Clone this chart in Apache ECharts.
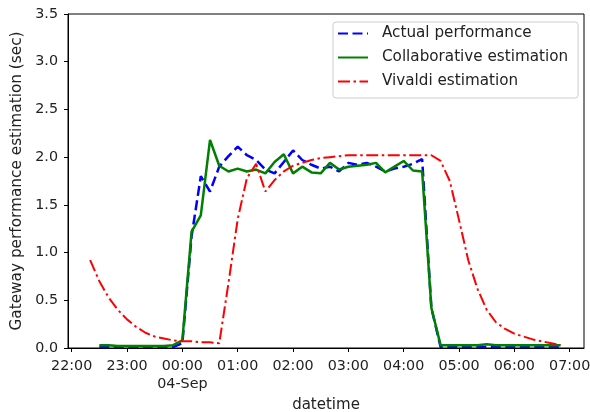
<!DOCTYPE html>
<html>
<head>
<meta charset="utf-8">
<script src="https://cdn.jsdelivr.net/npm/echarts@6/dist/echarts.min.js"></script>
<style>
  html, body { margin: 0; padding: 0; background: #fff; }
  #chart { width: 590px; height: 412px; }
</style>
</head>
<body>
<div id="chart"></div>
<script>
// sample times (night of 03 -> 04 Sep), 10 minute steps
const times = [
  '22:20', '22:30', '22:40', '22:50', '23:00', '23:10', '23:20', '23:30', '23:40', '23:50',
  '00:00', '00:10', '00:20', '00:30', '00:40', '00:50',
  '01:00', '01:10', '01:20', '01:30', '01:40', '01:50',
  '02:00', '02:10', '02:20', '02:30', '02:40', '02:50',
  '03:00', '03:10', '03:20', '03:30', '03:40', '03:50',
  '04:00', '04:10', '04:20', '04:30', '04:40', '04:50',
  '05:00', '05:10', '05:20', '05:30', '05:40', '05:50',
  '06:00', '06:10', '06:20', '06:30', '06:40', '06:50'
]

const actual = [
  null, 0.01, 0.01, 0.01, 0.01, 0.01, 0.01, 0.01, 0.01, 0.01,
  0.05, 1.17, 1.80, 1.64, 1.90, 2.01,
  2.11, 2.02, 1.97, 1.87, 1.83, 1.95,
  2.07, 1.97, 1.92, 1.88, 1.90, 1.85,
  1.94, 1.92, 1.94, 1.90, 1.85, 1.88,
  1.90, 1.93, 1.98, 0.42, 0.01, 0.01,
  0.01, 0.01, 0.01, 0.01, 0.01, 0.01,
  0.01, 0.01, 0.01, 0.01, 0.01, 0.01
]

const collaborative = [
  null, 0.03, 0.03, 0.02, 0.02, 0.02, 0.02, 0.02, 0.02, 0.03,
  0.08, 1.22, 1.39, 2.18, 1.91, 1.85,
  1.88, 1.85, 1.87, 1.83, 1.95, 2.03,
  1.83, 1.90, 1.84, 1.83, 1.94, 1.87,
  1.90, 1.91, 1.92, 1.94, 1.84, 1.90,
  1.96, 1.86, 1.85, 0.42, 0.03, 0.03,
  0.03, 0.03, 0.03, 0.04, 0.03, 0.03,
  0.03, 0.03, 0.03, 0.03, 0.03, 0.03
]

const vivaldi = [
  0.92, 0.70, 0.53, 0.40, 0.30, 0.22, 0.16, 0.12, 0.10, 0.08,
  0.07, 0.07, 0.06, 0.06, 0.05, 0.68,
  1.35, 1.78, 1.93, 1.64, 1.76, 1.85,
  1.91, 1.94, 1.97, 1.99, 2.00, 2.01,
  2.02, 2.02, 2.02, 2.02, 2.02, 2.02,
  2.02, 2.02, 2.02, 2.02, 1.96, 1.75,
  1.34, 0.92, 0.62, 0.40, 0.27, 0.20,
  0.15, 0.12, 0.09, 0.07, 0.05, 0.03
]

const yTicks = [0, 0.5, 1.0, 1.5, 2.0, 2.5, 3.0, 3.5]

const toStamp = (hm) => {
  const [h, m] = hm.split(':').map(Number)
  const day = h >= 12 ? 3 : 4
  return Date.UTC(2019, 8, day, h, m)
}

const pairs = (vals) => times.map((t, i) => [toStamp(t), vals[i]])

const pad2 = (n) => String(n).padStart(2, '0')
const font = 'DejaVu Sans'
const textColor = '#222'

const chart = echarts.init(document.getElementById('chart'))

chart.setOption({
  animation: false,
  useUTC: true,
  grid: {
    left: 68,
    right: 6,
    top: 14,
    bottom: 64,
    show: true,
    borderColor: '#000',
    borderWidth: 1,
    containLabel: false,
    outerBoundsMode: 'none',
  },
  legend: {
    orient: 'vertical',
    left: 333,
    top: 22,
    padding: [4, 10, 9, 4],
    itemWidth: 30,
    itemHeight: 14,
    itemGap: 9,
    backgroundColor: '#fff',
    borderColor: '#ccc',
    borderWidth: 1,
    borderRadius: 3,
    itemStyle: { opacity: 0, borderWidth: 0 },
    formatter: (name) => '{t|' + name + '}',
    textStyle: {
      fontFamily: font,
      fontSize: 15.2,
      color: textColor,
      lineHeight: 14,
      rich: {
        t: { fontFamily: font, fontSize: 15.2, color: textColor, lineHeight: 14, padding: [0, 0, 0, 9] },
      },
    },
    data: ['Actual performance', 'Collaborative estimation', 'Vivaldi estimation'],
  },
  xAxis: {
    type: 'time',
    min: Date.UTC(2019, 8, 3, 21, 56),
    max: Date.UTC(2019, 8, 4, 7, 15, 30),
    minInterval: 3600 * 1000,
    maxInterval: 3600 * 1000,
    name: 'datetime',
    nameLocation: 'middle',
    nameGap: 50,
    nameTextStyle: { fontFamily: font, fontSize: 15, color: textColor },
    axisLine: { show: true, lineStyle: { color: '#000', width: 1 } },
    axisTick: { show: true, inside: false, length: 4, lineStyle: { color: '#000' } },
    splitLine: { show: false },
    axisLabel: {
      fontFamily: font,
      fontSize: 14.3,
      color: textColor,
      lineHeight: 18,
      margin: 9,
      showMinLabel: false,
      showMaxLabel: false,
      hideOverlap: false,
      formatter: (value) => {
        const d = new Date(value)
        const h = d.getUTCHours()
        const m = d.getUTCMinutes()
        if (m !== 0) return ''
        const s = pad2(h) + ':' + pad2(m)
        return h === 0 ? s + '\n04-Sep' : s
      },
    },
  },
  yAxis: {
    type: 'value',
    min: 0,
    max: 3.5,
    interval: 0.5,
    name: 'Gateway performance estimation (sec)',
    nameLocation: 'middle',
    nameGap: 42,
    nameTextStyle: { fontFamily: font, fontSize: 15.3, color: textColor },
    axisLine: { show: true, lineStyle: { color: '#000', width: 1 } },
    axisTick: { show: true, inside: false, length: 4, lineStyle: { color: '#000' } },
    splitLine: { show: false },
    axisLabel: {
      fontFamily: font,
      fontSize: 14.3,
      color: textColor,
      margin: 10,
      formatter: (v) => (yTicks.includes(v) ? v.toFixed(1) : ''),
    },
  },
  series: [
    {
      name: 'Actual performance',
      type: 'line',
      data: pairs(actual),
      showSymbol: false,
      symbol: 'none',
      lineStyle: { color: '#0000ff', width: 2.5, type: [10, 4.5] },
      itemStyle: { color: '#0000ff' },
    },
    {
      name: 'Collaborative estimation',
      type: 'line',
      data: pairs(collaborative),
      showSymbol: false,
      symbol: 'none',
      lineStyle: { color: '#008000', width: 2.5, type: 'solid' },
      itemStyle: { color: '#008000' },
    },
    {
      name: 'Vivaldi estimation',
      type: 'line',
      data: pairs(vivaldi),
      showSymbol: false,
      symbol: 'none',
      lineStyle: { color: '#ff0000', width: 2, type: [12, 3.5, 2.5, 3.5] },
      itemStyle: { color: '#ff0000' },
    },
  ],
})
</script>
</body>
</html>
